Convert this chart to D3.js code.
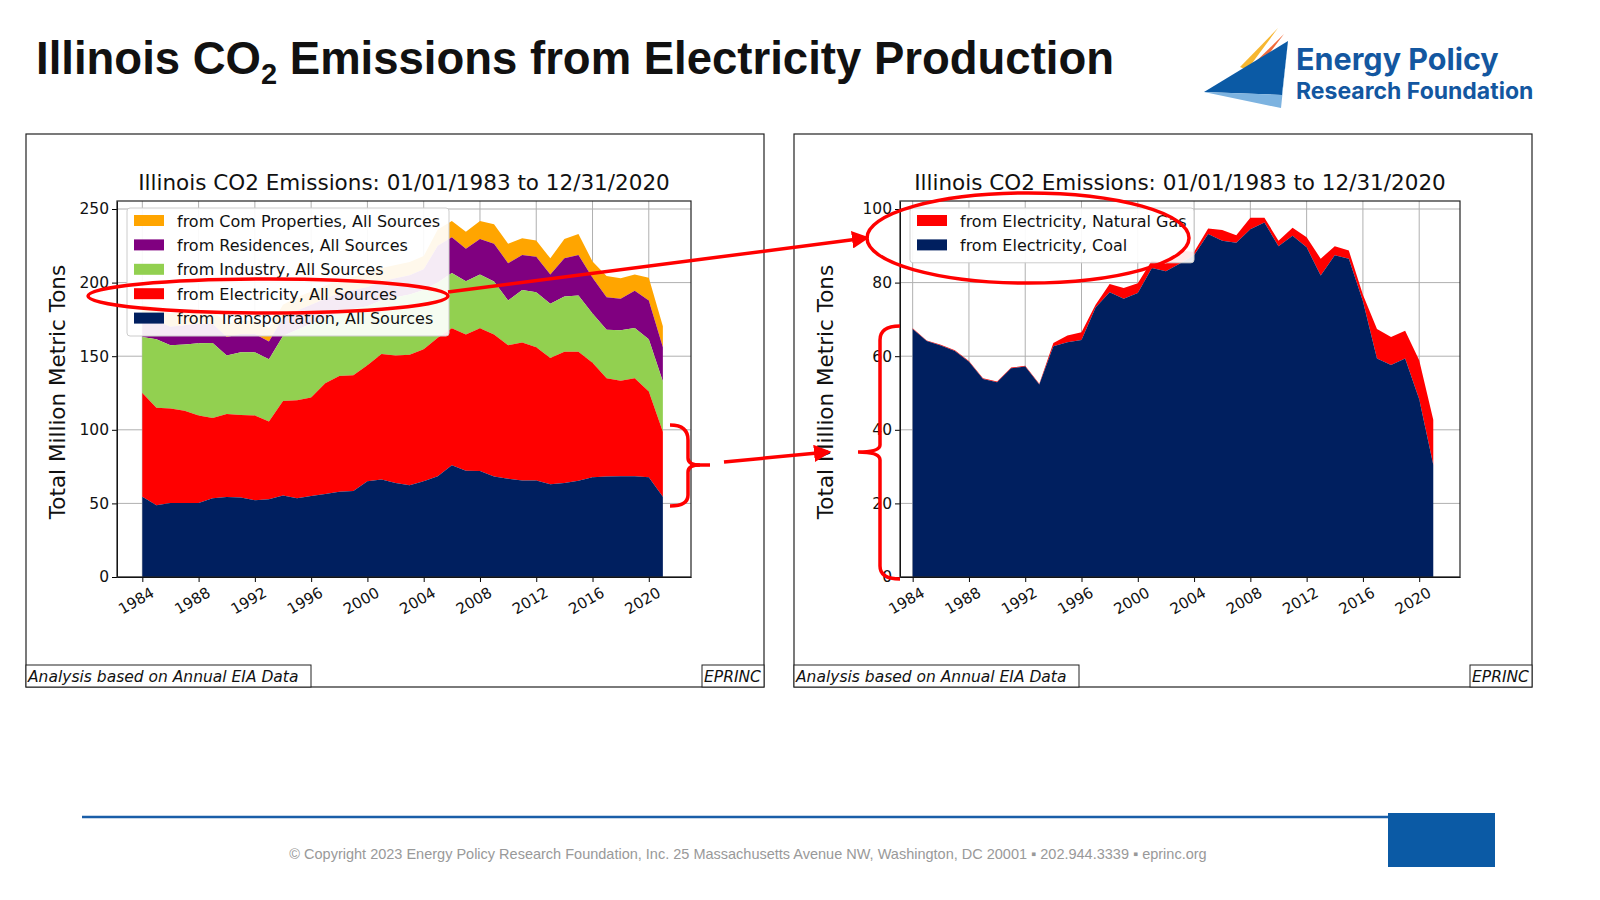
<!DOCTYPE html>
<html><head><meta charset="utf-8">
<script src="https://cdn.jsdelivr.net/npm/d3@7"></script>
<style>body{margin:0;background:#fff}svg{display:block}</style>
</head><body>
<svg id="c" width="1600" height="900"></svg>
<script>
const years = d3.range(1984, 2022);
// left chart: cumulative tops (million metric tons)
const transportTop = [54.6,48.7,50.2,50.2,50.2,53.5,54.4,54,52.2,52.9,55.3,53.5,55.1,56.4,57.9,58.4,65,66.3,63.9,62.3,65,68.5,76,72.2,72,68.3,66.7,65.6,65.6,63,63.9,65.4,67.8,68.3,68.5,68.5,67.8,54.6];
const electricityTop = [125,115,114.5,113,109.7,108,110.8,110,109.7,105.7,119.6,120,122,131.7,136.6,137,143.8,151.5,150.4,151,154.8,162.6,169,164.8,169,164.8,157.5,159.3,156,148.7,153,153,145.6,135,133.3,135,126,98.7];
const industryTop = [163,161.5,157.5,158,158.8,159,150.4,152.6,152.6,148,163.7,168,172,176,180,182,184,188,190,192,195,200,206.6,201,205.5,200.7,187.9,195,193.4,185.7,190.5,191.2,179,168,167.6,169.2,161.5,132.8];
const residenceTop = [176,174,170,171,172,172,163,165,165,160,176,181,185,189,193,195,197,201,203,205,209,225,230.8,223,229.7,226.4,213.2,218.7,217.6,205.5,216.5,218.7,203.3,190,189,194.5,187.9,156];
const comTop = [185,183,179,180,181,181,172,174,174,169,185,190,194,198,202,204,206,210,212,214,218,236,241.9,234.6,241.9,239.6,226.4,230.2,228.6,216.5,229.7,233,214.3,204.4,202.9,205.5,203.3,170.3];
// right chart
const coal = [67.4,64.1,62.9,61.4,58.5,53.8,52.9,56.7,57.2,52.3,62.7,63.8,64.4,73.2,77.4,75.6,77.2,84,83.1,85.2,87.4,93.2,91.4,90.8,94.5,96.3,89.9,92.7,89.6,81.9,87.4,86.5,74.9,59.4,57.6,59.4,48.3,30.5];
const elecTotal = [67.6,64.3,63.1,61.6,58.7,54,53.1,56.9,57.4,52.5,63.6,65.6,66.5,74,79.6,78.5,79.8,86,85.2,88.7,88.3,94.7,94.3,92.9,97.6,97.6,91.4,94.9,92.3,86.5,89.9,88.7,76.7,67.4,65.2,66.9,58.9,42.7];
const xTicks = d3.range(1984, 2021, 4);

const svg = d3.select('#c');
const font = 'DejaVu Sans';

// header
const title = svg.append('text').attr('x', 36).attr('y', 74)
  .attr('font-family', 'Liberation Sans').attr('font-weight', 'bold').attr('font-size', 45.5).attr('fill', '#111');
title.append('tspan').text('Illinois CO');
title.append('tspan').attr('font-size', 29).attr('dy', 10).text('2');
title.append('tspan').attr('dy', -10).text(' Emissions from Electricity Production');

// logo
const logo = svg.append('g');
logo.append('path').attr('d', 'M1240,67 L1278,28 L1247,70 Z').attr('fill', '#f7b731');
logo.append('path').attr('d', 'M1243,74 L1284,34 L1252,76 Z').attr('fill', '#f26b3a');
logo.append('path').attr('d', 'M1204,92 L1288,41 L1282,95 Z').attr('fill', '#0b5aa5');
logo.append('path').attr('d', 'M1204,92 L1282,95 L1288,41 L1281,108 Z').attr('fill', '#7db3e0');
logo.append('text').attr('x', 1296).attr('y', 70).attr('font-family', 'Inter').attr('font-weight', 'bold')
  .attr('font-size', 30.5).attr('fill', '#1357a0').text('Energy Policy');
logo.append('text').attr('x', 1296).attr('y', 99).attr('font-family', 'Inter').attr('font-weight', 'bold')
  .attr('font-size', 23).attr('fill', '#1357a0').text('Research Foundation');

function panel(px, cfg) {
  const g = svg.append('g');
  g.append('rect').attr('x', px).attr('y', 134).attr('width', 738).attr('height', 553)
    .attr('fill', '#fff').attr('stroke', '#222').attr('stroke-width', 1.2);
  const L = cfg.left, R = cfg.right, T = 201, B = 577;
  const x = d3.scaleLinear().domain(cfg.xdom).range([L, R]);
  const y = d3.scaleLinear().domain([0, cfg.ymax]).range([B, T]);
  // grid
  g.append('g').selectAll('line').data(xTicks).join('line')
    .attr('x1', d => x(d)).attr('x2', d => x(d)).attr('y1', T).attr('y2', B).attr('stroke', '#b0b0b0');
  g.append('g').selectAll('line').data(cfg.yTicks).join('line')
    .attr('x1', L).attr('x2', R).attr('y1', d => y(d)).attr('y2', d => y(d)).attr('stroke', '#b0b0b0');
  // areas
  cfg.layers.forEach(ly => {
    const area = d3.area().x((d, i) => x(years[i])).y0((d, i) => y(ly.low ? ly.low[i] : 0)).y1(d => y(d));
    g.append('path').datum(ly.top).attr('d', area).attr('fill', ly.color);
  });
  // axes
  const ax = g.append('g').attr('transform', `translate(0,${B})`)
    .call(d3.axisBottom(x).tickValues(xTicks).tickFormat(d3.format('d')).tickSize(5).tickSizeOuter(0));
  ax.selectAll('text').attr('font-family', font).attr('font-size', 15).attr('fill', '#111')
    .attr('text-anchor', 'end').attr('transform', 'translate(4,4) rotate(-30)').attr('dy', '0.6em');
  const ay = g.append('g').attr('transform', `translate(${L},0)`)
    .call(d3.axisLeft(y).tickValues(cfg.yTicks).tickSize(5).tickSizeOuter(0));
  ay.selectAll('text').attr('font-family', font).attr('font-size', 15.5).attr('fill', '#111');
  g.append('rect').attr('x', L).attr('y', T).attr('width', R - L).attr('height', B - T)
    .attr('fill', 'none').attr('stroke', '#222').attr('stroke-width', 1.2);
  g.append('text').attr('x', (L + R) / 2).attr('y', 190).attr('text-anchor', 'middle')
    .attr('font-family', font).attr('font-size', 21.5).attr('fill', '#111')
    .text('Illinois CO2 Emissions: 01/01/1983 to 12/31/2020');
  g.append('text').attr('transform', `translate(${px + 31},${(T + B) / 2 + 3}) rotate(-90)`).attr('text-anchor', 'middle')
    .attr('dy', '0.35em').attr('font-family', font).attr('font-size', 21.5).attr('fill', '#111').text('Total Million Metric Tons');
  // legend
  const lg = g.append('g');
  lg.append('rect').attr('x', L + 10).attr('y', T + 7).attr('width', cfg.legW).attr('height', cfg.legend.length * 24.4 + 6)
    .attr('rx', 3).attr('fill', '#fff').attr('fill-opacity', 0.92).attr('stroke', '#ccc');
  cfg.legend.forEach((e, i) => {
    const yy = T + 20 + i * 24.4;
    lg.append('rect').attr('x', L + 17).attr('y', yy - 6).attr('width', 30).attr('height', 11).attr('fill', e.color);
    lg.append('text').attr('x', L + 60).attr('y', yy).attr('dy', '0.35em').attr('font-family', font)
      .attr('font-size', 16).attr('fill', '#111').text(e.name);
  });
  // footnotes
  const fn = (tx, xx, w) => {
    g.append('rect').attr('x', xx).attr('y', 665).attr('width', w).attr('height', 22).attr('fill', '#fff').attr('stroke', '#222');
    g.append('text').attr('x', xx + 2).attr('y', 682).attr('font-family', font).attr('font-style', 'italic')
      .attr('font-size', 15.5).attr('fill', '#111').text(tx);
  };
  fn('Analysis based on Annual EIA Data', px, 285);
  fn('EPRINC', px + 676, 62);
}

panel(26, {
  left: 117, right: 691, xdom: [1982.2, 2023], ymax: 250 * 376 / 368, yTicks: [0, 50, 100, 150, 200, 250], legW: 322,
  layers: [
    {top: comTop, low: residenceTop, color: '#ffa500'},
    {top: residenceTop, low: industryTop, color: '#800080'},
    {top: industryTop, low: electricityTop, color: '#92d050'},
    {top: electricityTop, low: transportTop, color: '#ff0000'},
    {top: transportTop, color: '#001f5f'}
  ],
  legend: [
    {name: 'from Com Properties, All Sources', color: '#ffa500'},
    {name: 'from Residences, All Sources', color: '#800080'},
    {name: 'from Industry, All Sources', color: '#92d050'},
    {name: 'from Electricity, All Sources', color: '#ff0000'},
    {name: 'from Transportation, All Sources', color: '#001f5f'}
  ]
});
panel(794, {
  left: 900, right: 1460, xdom: [1983.1, 2022.9], ymax: 100 * 376 / 368, yTicks: [0, 20, 40, 60, 80, 100], legW: 284,
  layers: [
    {top: elecTotal, low: coal, color: '#ff0000'},
    {top: coal, color: '#001f5f'}
  ],
  legend: [
    {name: 'from Electricity, Natural Gas', color: '#ff0000'},
    {name: 'from Electricity, Coal', color: '#001f5f'}
  ]
});

// red annotations
const defs = svg.append('defs');
defs.append('marker').attr('id', 'ah').attr('viewBox', '0 0 10 10').attr('refX', 8).attr('refY', 5)
  .attr('markerWidth', 5).attr('markerHeight', 5).attr('orient', 'auto')
  .append('path').attr('d', 'M0,0 L10,5 L0,10 Z').attr('fill', '#f00');
const an = svg.append('g').attr('fill', 'none').attr('stroke', '#f00').attr('stroke-width', 3.5);
an.append('ellipse').attr('cx', 268).attr('cy', 296).attr('rx', 180).attr('ry', 17);
an.append('ellipse').attr('cx', 1028).attr('cy', 238).attr('rx', 161).attr('ry', 45);
an.append('line').attr('x1', 448).attr('y1', 292).attr('x2', 866).attr('y2', 238).attr('marker-end', 'url(#ah)');
an.append('path').attr('d', 'M670,425 Q688,425 688,440 L688,458 Q688,465 700,465 Q688,465 688,472 L688,495 Q688,506 670,506');
an.append('line').attr('x1', 693).attr('y1', 465).attr('x2', 710).attr('y2', 465);
an.append('line').attr('x1', 724).attr('y1', 462).attr('x2', 828).attr('y2', 452).attr('marker-end', 'url(#ah)');
an.append('path').attr('d', 'M900,326 Q880,326 880,340 L880,445 Q880,452 858,452 Q880,452 880,460 L880,566 Q880,579 900,579');

// footer
svg.append('line').attr('x1', 82).attr('x2', 1390).attr('y1', 817).attr('y2', 817).attr('stroke', '#1a5ea8').attr('stroke-width', 2.5);
svg.append('rect').attr('x', 1388).attr('y', 813).attr('width', 107).attr('height', 54).attr('fill', '#0b5aa5');
svg.append('text').attr('x', 748).attr('y', 859).attr('text-anchor', 'middle').attr('font-family', 'Liberation Sans')
  .attr('font-size', 14.5).attr('fill', '#999')
  .text('© Copyright 2023 Energy Policy Research Foundation, Inc. 25 Massachusetts Avenue NW, Washington, DC 20001 ▪ 202.944.3339 ▪ eprinc.org');
</script>
</body></html>
